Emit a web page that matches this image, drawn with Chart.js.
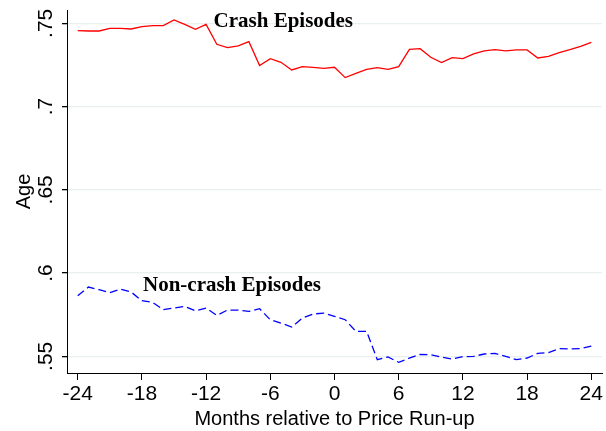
<!DOCTYPE html>
<html>
<head>
<meta charset="utf-8">
<script src="https://cdn.jsdelivr.net/npm/chart.js@4.4.0/dist/chart.umd.min.js"></script>
<style>
  html, body { margin: 0; padding: 0; background: #fff; }
  #wrap { width: 606px; height: 431px; }
</style>
</head>
<body>
<div id="wrap"><canvas id="grafico"></canvas></div>
<script>
// Meses relativos al run-up
const months = [-24, -23, -22, -21, -20, -19, -18, -17, -16, -15, -14, -13, -12, -11, -10, -9, -8, -7, -6, -5, -4, -3, -2, -1,
  0, 1, 2, 3, 4, 5, 6, 7, 8, 9, 10, 11, 12, 13, 14, 15, 16, 17, 18, 19, 20, 21, 22, 23, 24];

const crashAge = [0.7456, 0.7454, 0.7454, 0.7470, 0.7470, 0.7466, 0.7480, 0.7486, 0.7486, 0.7520, 0.7494, 0.7464, 0.7494,
  0.7374, 0.7354, 0.7364, 0.7390, 0.7246, 0.7288, 0.7266, 0.7220, 0.7240, 0.7236, 0.7230,
  0.7236, 0.7174, 0.7200, 0.7224, 0.7234, 0.7224, 0.7240, 0.7344, 0.7348, 0.7296, 0.7264, 0.7294, 0.7288,
  0.7316, 0.7334, 0.7342, 0.7334, 0.7340, 0.7340, 0.7292, 0.7302, 0.7324, 0.7342, 0.7362, 0.7386];

const nonCrashAge = [0.5864, 0.5916, 0.5900, 0.5882, 0.5904, 0.5886, 0.5834, 0.5824, 0.5780, 0.5790, 0.5800, 0.5774, 0.5790,
  0.5746, 0.5778, 0.5778, 0.5770, 0.5786, 0.5720, 0.5700, 0.5676, 0.5730, 0.5754, 0.5760,
  0.5740, 0.5720, 0.5650, 0.5650, 0.5480, 0.5496, 0.5464, 0.5490, 0.5512, 0.5510, 0.5496, 0.5484, 0.5498,
  0.5500, 0.5514, 0.5518, 0.5500, 0.5480, 0.5490, 0.5518, 0.5522, 0.5546, 0.5544, 0.5546, 0.5562];

const xTicks = [-24, -18, -12, -6, 0, 6, 12, 18, 24];
const yTicks = [0.55, 0.6, 0.65, 0.7, 0.75];
const yTickLabels = [".55", ".6", ".65", ".7", ".75"];

// Etiquetas dentro del gráfico (mes, valor de la línea base)
const seriesLabels = [
  { text: "Crash Episodes", x: -11.3, y: 0.7478 },
  { text: "Non-crash Episodes", x: -17.9, y: 0.5890 }
];

const toPoints = vals => months.map((m, i) => ({ x: m, y: vals[i] }));

// Plugin: etiquetas verticales del eje Y y textos de series
const textosPlugin = {
  id: "textos",
  afterDraw(chart) {
    const ctx = chart.ctx;
    const xs = chart.scales.x;
    const ys = chart.scales.y;
    ctx.save();
    ctx.fillStyle = "#000";
    ctx.font = "21px 'Liberation Sans', Arial, sans-serif";
    ctx.textAlign = "center";
    ctx.textBaseline = "middle";
    yTicks.forEach((v, i) => {
      const py = ys.getPixelForValue(v);
      ctx.save();
      ctx.translate(46, py);
      ctx.rotate(-Math.PI / 2);
      ctx.fillText(yTickLabels[i], 0, 0);
      ctx.restore();
    });
    ctx.font = "bold 21px 'Liberation Serif', 'Times New Roman', serif";
    ctx.textAlign = "left";
    ctx.textBaseline = "alphabetic";
    seriesLabels.forEach(l => {
      ctx.fillText(l.text, xs.getPixelForValue(l.x), ys.getPixelForValue(l.y));
    });
    ctx.restore();
  }
};

Chart.defaults.color = "#000";
Chart.defaults.font.family = "'Liberation Sans', Arial, sans-serif";

function renderGrafico() {
  const ctx = document.getElementById("grafico");
  window.grafico = new Chart(ctx, {
    type: "line",
    data: {
      datasets: [
        {
          label: "Crash Episodes",
          data: toPoints(crashAge),
          borderColor: "#ff0000",
          borderWidth: 1.3,
          pointRadius: 0,
          tension: 0,
          fill: false
        },
        {
          label: "Non-crash Episodes",
          data: toPoints(nonCrashAge),
          borderColor: "#0000ff",
          borderWidth: 1.3,
          borderDash: [8, 4],
          pointRadius: 0,
          tension: 0,
          fill: false
        }
      ]
    },
    options: {
      responsive: true,
      maintainAspectRatio: false,
      animation: false,
      layout: { padding: { top: 10, right: 4, left: 0, bottom: 0 } },
      plugins: {
        legend: { display: false },
        tooltip: { enabled: false }
      },
      scales: {
        x: {
          type: "linear",
          min: -25,
          max: 25,
          afterBuildTicks: s => { s.ticks = xTicks.map(v => ({ value: v })); },
          afterFit: s => { s.height = 58; },
          ticks: { font: { size: 21 }, padding: 2, maxRotation: 0, minRotation: 0 },
          grid: { drawOnChartArea: false, drawTicks: true, tickLength: 7, tickColor: "#000" },
          border: { color: "#000", width: 1 },
          title: {
            display: true,
            text: "Months relative to Price Run-up",
            font: { size: 20 },
            padding: { top: 0, bottom: 0 }
          }
        },
        y: {
          min: 0.540,
          max: 0.758,
          afterBuildTicks: s => { s.ticks = yTicks.map(v => ({ value: v })); },
          afterFit: s => { s.width = 67; },
          ticks: { display: false },
          grid: { color: "#e8f0f0", lineWidth: 1.3, drawTicks: true, tickLength: 5, tickColor: "#000" },
          border: { color: "#000", width: 1 },
          title: {
            display: true,
            text: "Age",
            font: { size: 20 },
            padding: { top: 12, bottom: 0 }
          }
        }
      }
    },
    plugins: [textosPlugin]
  });
}

document.addEventListener("DOMContentLoaded", renderGrafico);
</script>
</body>
</html>
